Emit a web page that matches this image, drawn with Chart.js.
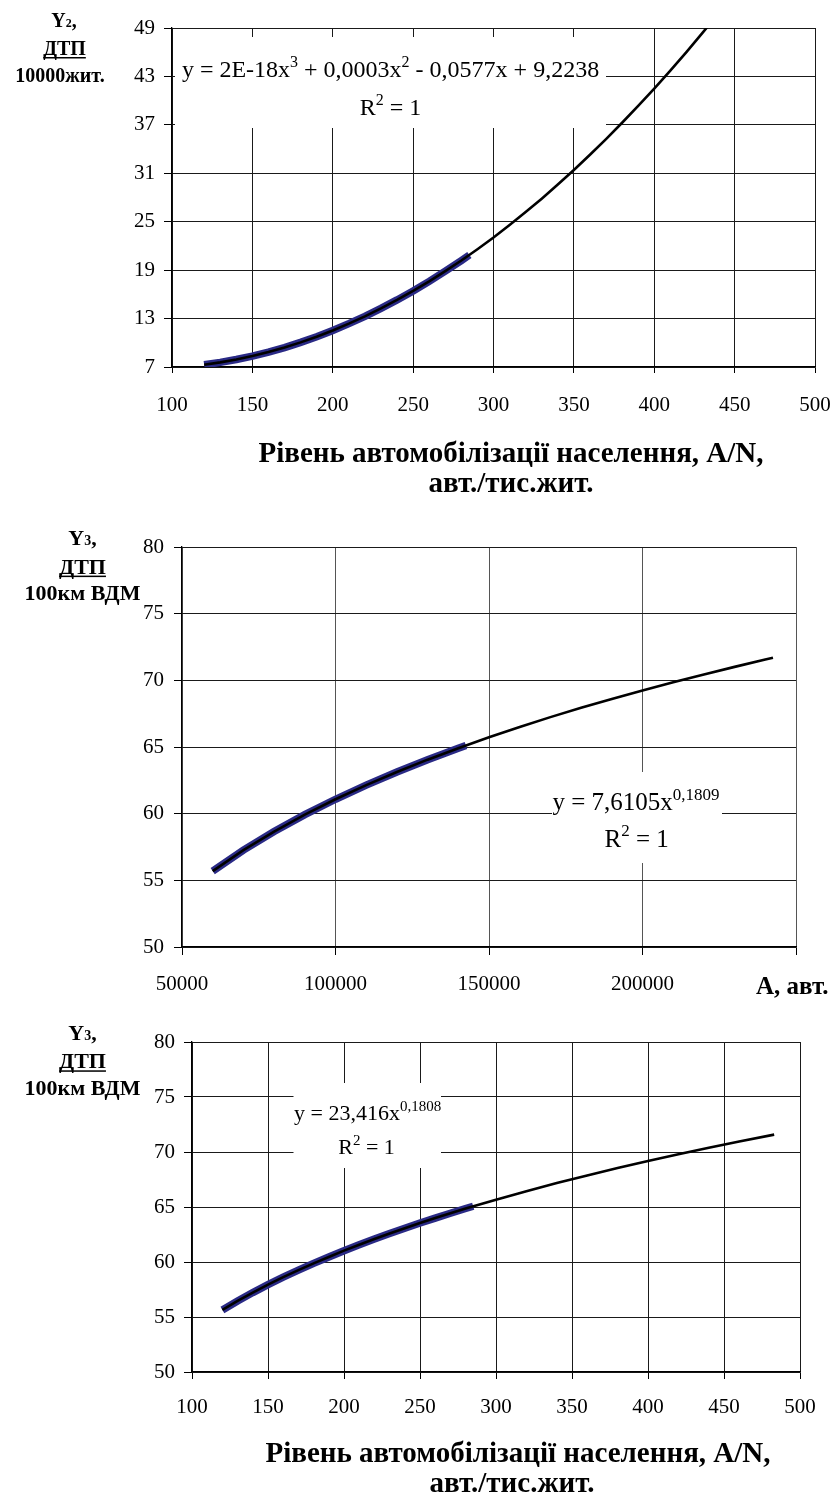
<!DOCTYPE html>
<html>
<head>
<meta charset="utf-8">
<script src="https://cdn.jsdelivr.net/npm/chart.js@4.4.1/dist/chart.umd.min.js"></script>
<style>
  html, body { margin: 0; padding: 0; background: #fff; overflow: hidden; }
  canvas { position: absolute; left: 0; }
</style>
</head>
<body>
<canvas id="chart1" width="836" height="505" style="top:0px"></canvas>
<canvas id="chart2" width="836" height="505" style="top:505px"></canvas>
<canvas id="chart3" width="836" height="495" style="top:1010px"></canvas>
<script>
'use strict';

// chart 1: Y2 (ДТП / 10000 жит.) від рівня автомобілізації A/N
const levelData = [120, 130, 140, 150, 160, 170, 180, 190, 200, 210, 220, 230, 240, 250, 260, 270, 280, 285];
const y2Data = [7.28, 7.57, 7.93, 8.35, 8.85, 9.41, 10.05, 10.75, 11.52, 12.37, 13.28, 14.26, 15.31, 16.42, 17.61, 18.87, 20.19, 20.88];
const levelTrend = [120, 130, 140, 150, 160, 170, 180, 190, 200, 210, 220, 230, 240, 250, 260, 270, 280, 290, 300, 310, 320, 330, 340, 350, 360, 370, 380, 390, 400, 410, 420, 430, 440];
const y2Trend = [7.28, 7.57, 7.93, 8.35, 8.85, 9.41, 10.05, 10.75, 11.52, 12.37, 13.28, 14.26, 15.31, 16.42, 17.61, 18.87, 20.19, 21.59, 23.05, 24.59, 26.19, 27.86, 29.60, 31.41, 33.29, 35.24, 37.26, 39.35, 41.50, 43.73, 46.02, 48.39, 50.82];
const y2Ticks = [7, 13, 19, 25, 31, 37, 43, 49];
const levelTicks = [100, 150, 200, 250, 300, 350, 400, 450, 500];

// chart 2: Y3 (ДТП / 100км ВДМ) від кількості автомобілів A
const carsData = [60000, 70000, 80000, 90000, 100000, 110000, 120000, 130000, 140000, 142500];
const y3CarsData = [55.69, 57.27, 58.66, 59.93, 61.08, 62.14, 63.13, 64.05, 64.91, 65.12];
const carsTrend = [60000, 70000, 80000, 90000, 100000, 110000, 120000, 130000, 140000, 150000, 160000, 170000, 180000, 190000, 200000, 210000, 220000, 230000, 240000, 242500];
const y3CarsTrend = [55.69, 57.27, 58.66, 59.93, 61.08, 62.14, 63.13, 64.05, 64.91, 65.73, 66.50, 67.24, 67.94, 68.60, 69.24, 69.86, 70.44, 71.01, 71.56, 71.70];
const carsTicks = [50000, 100000, 150000, 200000];
const y3Ticks = [50, 55, 60, 65, 70, 75, 80];

// chart 3: Y3 (ДТП / 100км ВДМ) від рівня автомобілізації A/N
const y3LevelData = [55.64, 56.46, 57.22, 57.94, 58.62, 59.26, 59.88, 60.46, 61.03, 61.57, 62.09, 62.59, 63.07, 63.54, 63.99, 64.43, 64.86, 65.07];
const levelTrend3 = [120, 130, 140, 150, 160, 170, 180, 190, 200, 210, 220, 230, 240, 250, 260, 270, 280, 300, 320, 340, 360, 380, 400, 420, 440, 460, 483];
const y3LevelTrend = [55.64, 56.46, 57.22, 57.94, 58.62, 59.26, 59.88, 60.46, 61.03, 61.57, 62.09, 62.59, 63.07, 63.54, 63.99, 64.43, 64.86, 65.67, 66.44, 67.18, 67.87, 68.54, 69.18, 69.79, 70.38, 70.95, 71.58];

const serif = '"Liberation Serif", "Times New Roman", serif';
Chart.defaults.font.family = serif;
Chart.defaults.color = '#000';

function pts(xs, ys) {
  return xs.map((x, i) => ({ x: x, y: ys[i] }));
}

function fontOf(size, bold) {
  return (bold ? 'bold ' : '') + size + 'px ' + serif;
}

// text made of runs (normal / superscript / small digit)
function drawRuns(ctx, item) {
  const size = item.size;
  const parts = item.runs.map(r => {
    const s = r.sup ? Math.round(size * 0.68) : (r.small ? Math.round(size * 0.62) : size);
    ctx.font = fontOf(s, item.bold);
    return { t: r.t, s: s, sup: r.sup, w: ctx.measureText(r.t).width };
  });
  const total = parts.reduce((a, p) => a + p.w, 0);
  let x = item.align === 'left' ? item.x : item.x - total / 2;
  const x0 = x;
  ctx.fillStyle = '#000';
  ctx.textAlign = 'left';
  ctx.textBaseline = 'alphabetic';
  parts.forEach(p => {
    ctx.font = fontOf(p.s, item.bold);
    ctx.fillText(p.t, x, item.y - (p.sup ? size * 0.42 : 0));
    x += p.w;
  });
  if (item.underline) ctx.fillRect(x0, item.y + 2, total, 1.5);
}

function notesPlugin(boxes, texts) {
  return {
    id: 'notes',
    beforeDatasetsDraw(chart) {
      const ctx = chart.ctx;
      ctx.save();
      boxes.forEach(b => {
        ctx.fillStyle = '#fff';
        ctx.fillRect(b[0], b[1], b[2] - b[0], b[3] - b[1]);
      });
      texts.forEach(t => drawRuns(ctx, t));
      ctx.restore();
    }
  };
}

function axis(min, max, step, o) {
  return {
    type: 'linear',
    min: min,
    max: max,
    ticks: {
      stepSize: step,
      padding: o.pad,
      autoSkip: false,
      maxRotation: 0,
      font: { size: 21 },
      color: '#000',
      callback: (v) => o.labels.includes(v) ? String(v) : ''
    },
    grid: { color: o.grid, lineWidth: 1, tickLength: o.tick, tickColor: '#000' },
    border: { color: '#000', width: 1.3 },
    afterFit: o.fit
  };
}

// x axis: fixed height, and no extra side padding from the end labels
function fitX(h) {
  return (s) => { s.height = h; s.paddingLeft = 0; s.paddingRight = 0; };
}
function fitY(w) {
  return (s) => { s.width = w; s.paddingTop = 0; s.paddingBottom = 0; };
}

function buildChart(id, o) {
  new Chart(document.getElementById(id), {
    type: 'scatter',
    data: {
      datasets: [
        {
          label: 'trend',
          data: o.trend,
          showLine: true,
          borderColor: '#000',
          borderWidth: 2.6,
          pointRadius: 0,
          clip: 0,
          order: 0
        },
        {
          label: 'data',
          data: o.data,
          showLine: true,
          borderColor: '#2a2a86',
          borderWidth: 7.5,
          pointRadius: 0,
          order: 1
        }
      ]
    },
    options: {
      responsive: false,
      animation: false,
      devicePixelRatio: 1,
      events: [],
      layout: { padding: o.padding },
      plugins: { legend: { display: false }, tooltip: { enabled: false } },
      scales: { x: o.x, y: o.y }
    },
    plugins: [notesPlugin(o.boxes, o.texts)]
  });
}

const titleA = 'Рівень автомобілізації населення, A/N,';
const titleB = 'авт./тис.жит.';

buildChart('chart1', {
  data: pts(levelData, y2Data),
  trend: pts(levelTrend, y2Trend),
  padding: { top: 28, right: 21, left: 0, bottom: 0 },
  x: axis(100, 500, 50, { labels: levelTicks, pad: 20, tick: 6, grid: '#1a1a1a', fit: fitX(138) }),
  y: axis(7, 49, 6, { labels: y2Ticks, pad: 9, tick: 8, grid: '#1a1a1a', fit: fitY(172) }),
  boxes: [[175, 37, 606, 128]],
  texts: [
    { x: 64, y: 27, size: 20, bold: true, runs: [{ t: 'Y' }, { t: '2', small: true }, { t: ',' }] },
    { x: 64.5, y: 55, size: 20, bold: true, underline: true, runs: [{ t: 'ДТП' }] },
    { x: 60, y: 81.7, size: 20, bold: true, runs: [{ t: '10000жит.' }] },
    { x: 390.5, y: 77, size: 24, runs: [{ t: 'y = 2E-18x' }, { t: '3', sup: true }, { t: ' + 0,0003x' }, { t: '2', sup: true }, { t: ' - 0,0577x + 9,2238' }] },
    { x: 390.5, y: 115, size: 24, runs: [{ t: 'R' }, { t: '2', sup: true }, { t: ' = 1' }] },
    { x: 511, y: 461.7, size: 29, bold: true, runs: [{ t: titleA }] },
    { x: 511, y: 491.7, size: 29, bold: true, runs: [{ t: titleB }] }
  ]
});

buildChart('chart2', {
  data: pts(carsData, y3CarsData),
  trend: pts(carsTrend, y3CarsTrend),
  padding: { top: 42, right: 40, left: 0, bottom: 0 },
  x: axis(50000, 250000, 50000, { labels: carsTicks, pad: 17, tick: 8, grid: '#555', fit: fitX(63) }),
  y: axis(50, 80, 5, { labels: y3Ticks, pad: 10, tick: 8, grid: '#1a1a1a', fit: fitY(182) }),
  boxes: [[552, 267, 722, 358]],
  texts: [
    { x: 82.5, y: 40.3, size: 22, bold: true, runs: [{ t: 'Y' }, { t: '3', small: true }, { t: ',' }] },
    { x: 82.5, y: 68.6, size: 22, bold: true, underline: true, runs: [{ t: 'ДТП' }] },
    { x: 82.5, y: 95.3, size: 22, bold: true, runs: [{ t: '100км ВДМ' }] },
    { x: 636, y: 305, size: 25, runs: [{ t: 'y = 7,6105x' }, { t: '0,1809', sup: true }] },
    { x: 636.7, y: 341.7, size: 25, runs: [{ t: 'R' }, { t: '2', sup: true }, { t: ' = 1' }] },
    { x: 756, y: 489.3, size: 25, bold: true, align: 'left', runs: [{ t: 'A, авт.' }] }
  ]
});

buildChart('chart3', {
  data: pts(levelData, y3LevelData),
  trend: pts(levelTrend3, y3LevelTrend),
  padding: { top: 32, right: 36, left: 0, bottom: 0 },
  x: axis(100, 500, 50, { labels: levelTicks, pad: 16, tick: 7, grid: '#1a1a1a', fit: fitX(133) }),
  y: axis(50, 80, 5, { labels: y3Ticks, pad: 9, tick: 8, grid: '#1a1a1a', fit: fitY(192) }),
  boxes: [[293.5, 73, 441, 158]],
  texts: [
    { x: 82.5, y: 30, size: 22, bold: true, runs: [{ t: 'Y' }, { t: '3', small: true }, { t: ',' }] },
    { x: 82.5, y: 58.3, size: 22, bold: true, underline: true, runs: [{ t: 'ДТП' }] },
    { x: 82.5, y: 85, size: 22, bold: true, runs: [{ t: '100км ВДМ' }] },
    { x: 367.6, y: 110, size: 22, runs: [{ t: 'y = 23,416x' }, { t: '0,1808', sup: true }] },
    { x: 366.5, y: 144, size: 22, runs: [{ t: 'R' }, { t: '2', sup: true }, { t: ' = 1' }] },
    { x: 518, y: 451.7, size: 29, bold: true, runs: [{ t: titleA }] },
    { x: 512, y: 481.7, size: 29, bold: true, runs: [{ t: titleB }] }
  ]
});
</script>
</body>
</html>
